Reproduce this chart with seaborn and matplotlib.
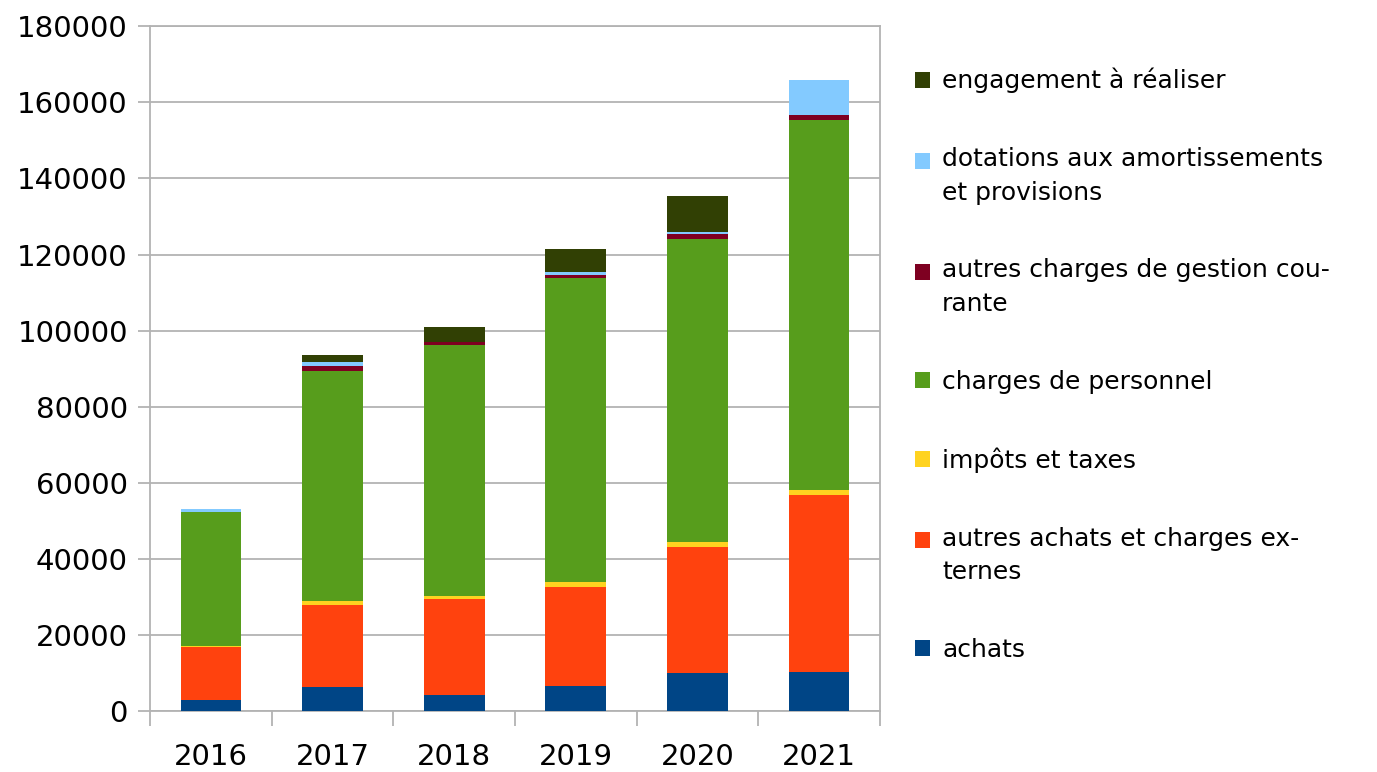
import pandas as pd
import matplotlib.pyplot as plt
import seaborn as sns
from matplotlib.patches import Patch, Rectangle
from matplotlib.legend_handler import HandlerPatch
from matplotlib.ticker import FixedLocator

years = [2016, 2017, 2018, 2019, 2020, 2021]

achats = [3000, 6400, 4200, 6700, 10100, 10300]
autres_achats = [13700, 21500, 25200, 26000, 33100, 46500]
impots = [400, 900, 900, 1100, 1100, 1400]
personnel = [35300, 60500, 65800, 80100, 79900, 97100]
autres_charges = [0, 1300, 1000, 800, 1300, 1300]
dotations = [800, 1200, 0, 600, 500, 9400]
engagement = [0, 1700, 3900, 6200, 9500, 0]

# top of legend first (seaborn stacks the first hue level on top)
series = [
    ("engagement à réaliser", "engagement à réaliser", engagement, "#314004"),
    ("dotations aux amortissements et provisions",
     "dotations aux amortissements\net provisions", dotations, "#83caff"),
    ("autres charges de gestion courante",
     "autres charges de gestion cou-\nrante", autres_charges, "#7e0021"),
    ("charges de personnel", "charges de personnel", personnel, "#579d1c"),
    ("impôts et taxes", "impôts et taxes", impots, "#ffd320"),
    ("autres achats et charges externes",
     "autres achats et charges ex-\nternes", autres_achats, "#ff420e"),
    ("achats", "achats", achats, "#004586"),
]


class FirstLineHandler(HandlerPatch):
    # put the square next to the first line of a wrapped label
    def __init__(self, shift=0.0):
        super().__init__()
        self.shift = shift

    def create_artists(self, legend, orig_handle, xdescent, ydescent,
                       width, height, fontsize, trans):
        p = Rectangle((-xdescent, -ydescent + self.shift), width, height,
                      facecolor=orig_handle.get_facecolor(),
                      edgecolor="none", transform=trans)
        return [p]


def build_frame():
    rows = []
    for name, _, values, _ in series:
        for year, v in zip(years, values):
            rows.append({"year": year, "poste": name, "montant": v})
    return pd.DataFrame(rows)


def main():
    sns.set_style("white")
    plt.rcParams["font.family"] = ["DejaVu Sans"]
    plt.rcParams["text.color"] = "black"

    df = build_frame()
    hue_order = [s[0] for s in series]
    palette = {s[0]: s[3] for s in series}

    fig = plt.figure(figsize=(13.77, 7.72), dpi=100)
    ax = fig.add_axes([0.109, 0.079, 0.530, 0.887])

    sns.histplot(
        data=df, x="year", weights="montant", hue="poste",
        hue_order=hue_order, palette=palette, multiple="stack",
        discrete=True, shrink=0.5, linewidth=0, alpha=1,
        legend=False, ax=ax, zorder=3,
    )

    grid_c = "#b3b3b3"
    ax.set_xlim(2015.5, 2021.5)
    ax.set_ylim(0, 180000)
    ax.set_yticks(range(0, 180001, 20000))
    ax.set_xticks(years)
    ax.xaxis.set_minor_locator(FixedLocator([y - 0.5 for y in years] + [2021.5]))
    ax.yaxis.grid(True, color=grid_c, linewidth=1.3, zorder=0)
    ax.set_axisbelow(True)
    for sp in ax.spines.values():
        sp.set_color(grid_c)
        sp.set_linewidth(1.3)
    ax.tick_params(axis="y", which="major", length=9, width=1.3, color=grid_c,
                   pad=7, labelsize=21, labelcolor="black", left=True)
    ax.tick_params(axis="x", which="major", length=0, pad=23, labelsize=21,
                   labelcolor="black")
    ax.tick_params(axis="x", which="minor", length=11, width=1.3, color=grid_c,
                   bottom=True)
    ax.set_xlabel("")
    ax.set_ylabel("")

    handles = [Patch(facecolor=s[3], edgecolor="none") for s in series]
    labels = [s[1] for s in series]
    hmap = {h: FirstLineHandler(11.5 if "\n" in lab else 0.0)
            for h, lab in zip(handles, labels)}
    leg = ax.legend(
        handles, labels, loc="upper left", bbox_to_anchor=(0.657, 0.925),
        bbox_transform=fig.transFigure, frameon=False, fontsize=18,
        handlelength=0.6, handleheight=0.6, handletextpad=0.5,
        labelspacing=2.15, borderaxespad=0, handler_map=hmap,
    )
    for t in leg.get_texts():
        t.set_linespacing(1.5)

    fig.savefig("out.png", dpi=100, facecolor="white")


if __name__ == "__main__":
    main()
